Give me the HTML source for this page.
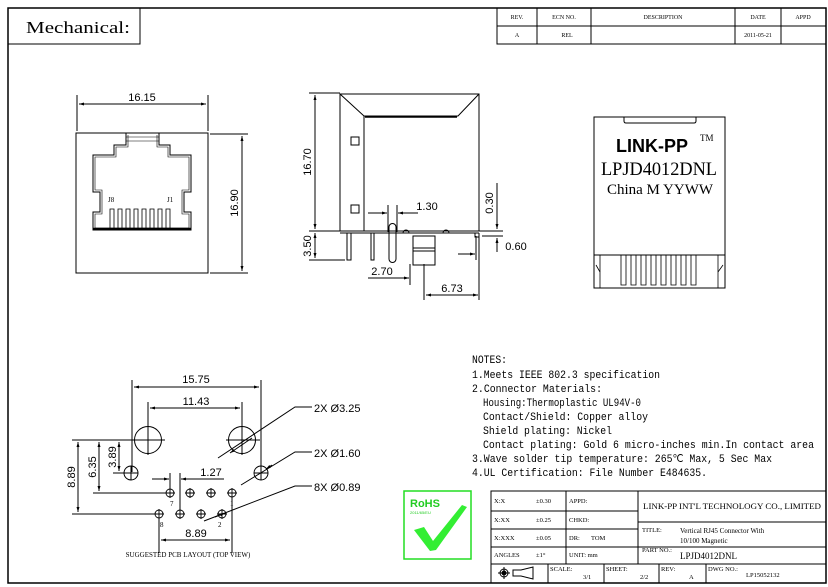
<!DOCTYPE html>
<html><head><meta charset="utf-8"><style>
html,body{margin:0;padding:0;background:#fff}
svg{display:block}
text{font-family:"Liberation Sans",sans-serif;fill:#000}
.m, .m text{font-family:"Liberation Mono",monospace}
.s, .s text{font-family:"Liberation Serif",serif}
</style></head><body>
<svg width="828" height="587" viewBox="0 0 828 587" xmlns="http://www.w3.org/2000/svg">
<defs>
<marker id="a" viewBox="0 0 10 10" refX="10" refY="5" markerWidth="7" markerHeight="5" orient="auto-start-reverse"><path d="M0,2 L10,5 L0,8z" fill="#000"/></marker>
</defs>
<g fill="none" stroke="#000" stroke-width="1">
<rect x="8" y="8" width="818" height="575" stroke-width="1.5"/>
<rect x="8" y="8" width="132" height="36"/>
<rect x="497" y="8" width="329" height="36"/>
<line x1="497" y1="26" x2="826" y2="26"/>
<line x1="537" y1="8" x2="537" y2="44"/><line x1="591" y1="8" x2="591" y2="44"/>
<line x1="735" y1="8" x2="735" y2="44"/><line x1="781" y1="8" x2="781" y2="44"/>

<rect x="76" y="133" width="132" height="140"/>
<line x1="77" y1="95" x2="77" y2="131"/><line x1="208" y1="95" x2="208" y2="131"/>
<line x1="79" y1="104" x2="206" y2="104" marker-start="url(#a)" marker-end="url(#a)"/>
<line x1="210" y1="134" x2="248" y2="134"/><line x1="210" y1="273" x2="248" y2="273"/>
<line x1="242" y1="136" x2="242" y2="271" marker-start="url(#a)" marker-end="url(#a)"/>
<path d="M126,133 V145 H114 V155 H93 V192 H100 V212 H93 V230 H191 V212 H184 V192 H191 V155 H170 V145 H159 V133"/>
<path d="M128,135 V147 H116 V157 H95 V190 H102 V214 H95 V228 H189 V214 H182 V190 H189 V157 H168 V147 H157 V135" stroke-width="0.6"/>
<line x1="126" y1="137" x2="159" y2="137" stroke-width="0.6"/><line x1="126" y1="141" x2="159" y2="141" stroke-width="0.6"/>
<g stroke-width="0.8">
<path d="M110,230 V209 H114 V230 M118,230 V209 H122 V230 M126,230 V209 H130 V230 M134,230 V209 H138 V230 M142,230 V209 H146 V230 M150,230 V209 H154 V230 M158,230 V209 H162 V230 M166,230 V209 H170 V230"/>
</g>
<line x1="93" y1="229" x2="191" y2="229" stroke-width="2.5"/>

<rect x="340" y="94" width="139" height="137"/>
<path d="M340,94 L364,116 H458 L479,94"/>
<line x1="365" y1="117" x2="457" y2="117" stroke-width="1.5"/>
<line x1="364" y1="116" x2="364" y2="231"/>
<rect x="351" y="137" width="8" height="8"/><rect x="351" y="205" width="8" height="8"/>
<line x1="309" y1="93" x2="340" y2="93"/>
<line x1="315" y1="95" x2="315" y2="229" marker-start="url(#a)" marker-end="url(#a)"/>
<line x1="309" y1="231" x2="340" y2="231"/>
<line x1="309" y1="260" x2="345" y2="260"/>
<line x1="315" y1="233" x2="315" y2="258" marker-start="url(#a)" marker-end="url(#a)"/>
<line x1="340" y1="233" x2="479" y2="233"/>
<path d="M347,233 V260 H351 V233"/>
<path d="M371,233 V260 H374 V233"/>
<path d="M389,227 V259 A3.5,3.5 0 0 0 396,259 V227 A3.5,3.5 0 0 0 389,227"/>
<path d="M403,233 A3,3 0 0 1 409,233"/><path d="M443,233 A3,3 0 0 1 449,233"/>
<rect x="413" y="236" width="22" height="29"/><line x1="413" y1="248" x2="435" y2="248"/>
<line x1="413" y1="251" x2="435" y2="251"/>
<path d="M475,233 V237 H479 V233"/>
<line x1="388" y1="205" x2="388" y2="232"/><line x1="397" y1="205" x2="397" y2="232"/>
<line x1="368" y1="213" x2="387" y2="213" marker-end="url(#a)"/>
<line x1="418" y1="213" x2="398" y2="213" marker-end="url(#a)"/>
<line x1="497" y1="183" x2="497" y2="229" marker-end="url(#a)"/>
<line x1="479" y1="231" x2="503" y2="231"/>
<line x1="482" y1="236" x2="503" y2="236"/>
<line x1="497" y1="252" x2="497" y2="238" marker-end="url(#a)"/>
<line x1="476" y1="236" x2="476" y2="260"/><line x1="479" y1="236" x2="479" y2="300"/>
<line x1="458" y1="254" x2="475" y2="254" marker-end="url(#a)"/>
<line x1="410" y1="264" x2="410" y2="285"/><line x1="424" y1="264" x2="424" y2="300"/>
<line x1="368" y1="278" x2="409" y2="278" marker-end="url(#a)"/>
<line x1="426" y1="295" x2="478" y2="295" marker-start="url(#a)" marker-end="url(#a)"/>

<rect x="594" y="117" width="131" height="171"/>
<path d="M624,117 V121 Q624,123 626,123 H694 Q696,123 696,121 V117"/>
<line x1="594" y1="255" x2="725" y2="255"/>
<g stroke-width="0.8">
<path d="M600,255 V288 M718,255 V288"/>
<path d="M596,265 L600,272 M723,265 L718,272"/>
<path d="M621,255 V285 H626 V255 M631,255 V285 H636 V255 M641,255 V285 H646 V255 M651,255 V285 H656 V255 M661,255 V285 H666 V255 M671,255 V285 H676 V255 M681,255 V285 H686 V255 M691,255 V285 H696 V255"/>
</g>

<line x1="132" y1="380" x2="132" y2="472"/><line x1="261" y1="380" x2="261" y2="472"/>
<line x1="134" y1="387" x2="259" y2="387" marker-start="url(#a)" marker-end="url(#a)"/>
<line x1="148" y1="402" x2="148" y2="455"/><line x1="242" y1="402" x2="242" y2="455"/>
<line x1="150" y1="408" x2="240" y2="408" marker-start="url(#a)" marker-end="url(#a)"/>
<circle cx="148" cy="440" r="13.5"/><circle cx="242" cy="440" r="13.5"/>
<line x1="131" y1="440" x2="165" y2="440"/><line x1="226" y1="440" x2="260" y2="440"/>
<circle cx="131" cy="473" r="7"/><circle cx="261" cy="473" r="7"/>
<path d="M124,473 H138 M131,466 V480 M254,473 H268 M261,466 V480"/>
<g stroke-width="0.9">
<circle cx="170" cy="493" r="4"/><circle cx="190" cy="493" r="4"/><circle cx="211" cy="493" r="4"/><circle cx="232" cy="493" r="4"/>
<circle cx="159" cy="514" r="4"/><circle cx="180" cy="514" r="4"/><circle cx="201" cy="514" r="4"/><circle cx="222" cy="514" r="4"/>
<path d="M165,493 H175 M170,488 V498 M185,493 H195 M190,488 V498 M206,493 H216 M211,488 V498 M227,493 H237 M232,488 V498"/>
<path d="M154,514 H164 M159,509 V519 M175,514 H185 M180,509 V519 M196,514 H206 M201,509 V519 M217,514 H227 M222,509 V519"/>
</g>
<line x1="72" y1="440" x2="134" y2="440"/>
<line x1="72" y1="514" x2="154" y2="514"/>
<line x1="93" y1="493" x2="165" y2="493"/>
<line x1="113" y1="473" x2="124" y2="473"/>
<line x1="78" y1="442" x2="78" y2="512" marker-start="url(#a)" marker-end="url(#a)"/>
<line x1="99" y1="442" x2="99" y2="491" marker-start="url(#a)" marker-end="url(#a)"/>
<line x1="119" y1="442" x2="119" y2="471" marker-start="url(#a)" marker-end="url(#a)"/>
<line x1="170" y1="473" x2="170" y2="489"/><line x1="180" y1="473" x2="180" y2="510"/>
<line x1="152" y1="479" x2="169" y2="479" marker-end="url(#a)"/>
<line x1="224" y1="479" x2="181" y2="479" marker-end="url(#a)"/>
<line x1="159" y1="518" x2="159" y2="553"/><line x1="232" y1="497" x2="232" y2="553"/>
<line x1="161" y1="540" x2="230" y2="540" marker-start="url(#a)" marker-end="url(#a)"/>
<path d="M218,458 L295,407 H312" /><line x1="252" y1="438" x2="230" y2="453" marker-end="url(#a)"/>
<path d="M241,485 L295,452 H312"/><line x1="272" y1="465" x2="266" y2="469" marker-end="url(#a)"/>
<path d="M204,521 L295,486 H312"/><line x1="215" y1="517" x2="225" y2="513" marker-end="url(#a)"/>

<rect x="404" y="491" width="67" height="68" stroke="#22dd22" stroke-width="1.5"/>

<rect x="491" y="491" width="335" height="92"/>
<line x1="491" y1="511" x2="638" y2="511"/><line x1="491" y1="529" x2="638" y2="529"/>
<line x1="491" y1="547" x2="826" y2="547"/><line x1="491" y1="564" x2="826" y2="564"/>
<line x1="638" y1="522" x2="826" y2="522"/>
<line x1="566" y1="491" x2="566" y2="564"/><line x1="638" y1="491" x2="638" y2="564"/>
<line x1="548" y1="564" x2="548" y2="583"/><line x1="604" y1="564" x2="604" y2="583"/>
<line x1="659" y1="564" x2="659" y2="583"/><line x1="706" y1="564" x2="706" y2="583"/>
<circle cx="504" cy="573" r="4"/><circle cx="504" cy="573" r="2" fill="#000"/><path d="M498,573 H510 M504,567 V579"/>
<path d="M513,570 H521 L533,567 V579 L521,576 H513 Z"/>
</g>
<path d="M414,530 L424,527 L433,541 L462,505 L467,507 L436,550 L430,551 Z" fill="#33ee33"/>
<text x="410" y="507" font-size="11" font-weight="bold" style="fill:#22cc22">RoHS</text>
<text x="410" y="514" font-size="4" style="fill:#22cc22">2011/65/EU</text>

<text x="26" y="33" font-size="17" textLength="104" lengthAdjust="spacingAndGlyphs" style="font-family:'Liberation Serif',serif">Mechanical:</text>
<g class="s" font-size="6">
<text x="517" y="19" text-anchor="middle">REV.</text><text x="564" y="19" text-anchor="middle">ECN NO.</text>
<text x="663" y="19" text-anchor="middle">DESCRIPTION</text><text x="758" y="19" text-anchor="middle">DATE</text>
<text x="803" y="19" text-anchor="middle">APPD</text>
<text x="517" y="37" text-anchor="middle">A</text><text x="567" y="37" text-anchor="middle">REL</text>
<text x="758" y="37" text-anchor="middle">2011-05-21</text>
</g>
<g font-size="11">
<text x="142" y="101" text-anchor="middle">16.15</text>
<text transform="translate(238,203) rotate(-90)" text-anchor="middle">16.90</text>
<text transform="translate(311,162) rotate(-90)" text-anchor="middle">16.70</text>
<text transform="translate(311,246) rotate(-90)" text-anchor="middle">3.50</text>
<text x="427" y="210" text-anchor="middle">1.30</text>
<text transform="translate(493,203) rotate(-90)" text-anchor="middle">0.30</text>
<text x="516" y="250" text-anchor="middle">0.60</text>
<text x="382" y="275" text-anchor="middle">2.70</text>
<text x="452" y="292" text-anchor="middle">6.73</text>
<text x="196" y="383" text-anchor="middle">15.75</text>
<text x="196" y="405" text-anchor="middle">11.43</text>
<text x="211" y="476" text-anchor="middle">1.27</text>
<text x="196" y="537" text-anchor="middle">8.89</text>
<text transform="translate(75,477) rotate(-90)" text-anchor="middle">8.89</text>
<text transform="translate(96,467) rotate(-90)" text-anchor="middle">6.35</text>
<text transform="translate(116,457) rotate(-90)" text-anchor="middle">3.89</text>
<text x="314" y="412">2X  Ø3.25</text>
<text x="314" y="457">2X  Ø1.60</text>
<text x="314" y="491">8X  Ø0.89</text>
</g>
<g class="s" font-size="7">
<text x="108" y="202">J8</text><text x="167" y="202">J1</text>
<text x="170" y="506">7</text><text x="230" y="506">1</text>
<text x="160" y="527">8</text><text x="218" y="527">2</text>
<text x="188" y="557" text-anchor="middle" font-size="7">SUGGESTED PCB LAYOUT (TOP VIEW)</text>
</g>
<text x="616" y="152" font-size="18" font-weight="bold">LINK-PP</text>
<text x="700" y="141" font-size="9" style="font-family:'Liberation Serif',serif">TM</text>
<g class="s">
<text x="659" y="175" font-size="19" text-anchor="middle" textLength="116" lengthAdjust="spacingAndGlyphs">LPJD4012DNL</text>
<text x="660" y="194" font-size="15" text-anchor="middle" textLength="106" lengthAdjust="spacingAndGlyphs">China M YYWW</text>
</g>
<g class="m" font-size="11">
<text x="472" y="363" textLength="35" lengthAdjust="spacingAndGlyphs">NOTES:</text>
<text x="472" y="378" textLength="188" lengthAdjust="spacingAndGlyphs">1.Meets IEEE 802.3 specification</text>
<text x="472" y="392" textLength="130" lengthAdjust="spacingAndGlyphs">2.Connector Materials:</text>
<text x="483" y="406" textLength="158" lengthAdjust="spacingAndGlyphs">Housing:Thermoplastic UL94V-0</text>
<text x="483" y="420" textLength="165" lengthAdjust="spacingAndGlyphs">Contact/Shield: Copper alloy</text>
<text x="483" y="434" textLength="129" lengthAdjust="spacingAndGlyphs">Shield plating: Nickel</text>
<text x="483" y="448" textLength="331" lengthAdjust="spacingAndGlyphs">Contact plating: Gold 6 micro-inches min.In contact area</text>
<text x="472" y="462" textLength="300" lengthAdjust="spacingAndGlyphs">3.Wave solder tip temperature: 265℃ Max, 5 Sec Max</text>
<text x="472" y="476" textLength="235" lengthAdjust="spacingAndGlyphs">4.UL Certification: File Number E484635.</text>
</g>
<g class="s" font-size="6.5">
<text x="494" y="503">X:X</text><text x="536" y="503">±0.30</text><text x="569" y="503">APPD:</text>
<text x="494" y="522">X:XX</text><text x="536" y="522">±0.25</text><text x="569" y="522">CHKD:</text>
<text x="494" y="540">X:XXX</text><text x="536" y="540">±0.05</text><text x="569" y="540">DR:</text><text x="591" y="540">TOM</text>
<text x="494" y="557">ANGLES</text><text x="536" y="557">±1°</text><text x="569" y="557">UNIT: mm</text>
<text x="643" y="509" font-size="8" textLength="178" lengthAdjust="spacingAndGlyphs">LINK-PP INT'L TECHNOLOGY CO., LIMITED</text>
<text x="642" y="532">TITLE:</text>
<text x="680" y="533" font-size="7">Vertical RJ45 Connector With</text>
<text x="680" y="543" font-size="7">10/100 Magnetic</text>
<text x="642" y="552">PART NO.:</text>
<text x="680" y="559" font-size="9">LPJD4012DNL</text>
<text x="550" y="571">SCALE:</text><text x="583" y="579">3/1</text>
<text x="606" y="571">SHEET:</text><text x="640" y="579">2/2</text>
<text x="661" y="571">REV:</text><text x="689" y="579">A</text>
<text x="708" y="571">DWG NO.:</text><text x="746" y="577">LP15052132</text>
</g>
</svg>
</body></html>
